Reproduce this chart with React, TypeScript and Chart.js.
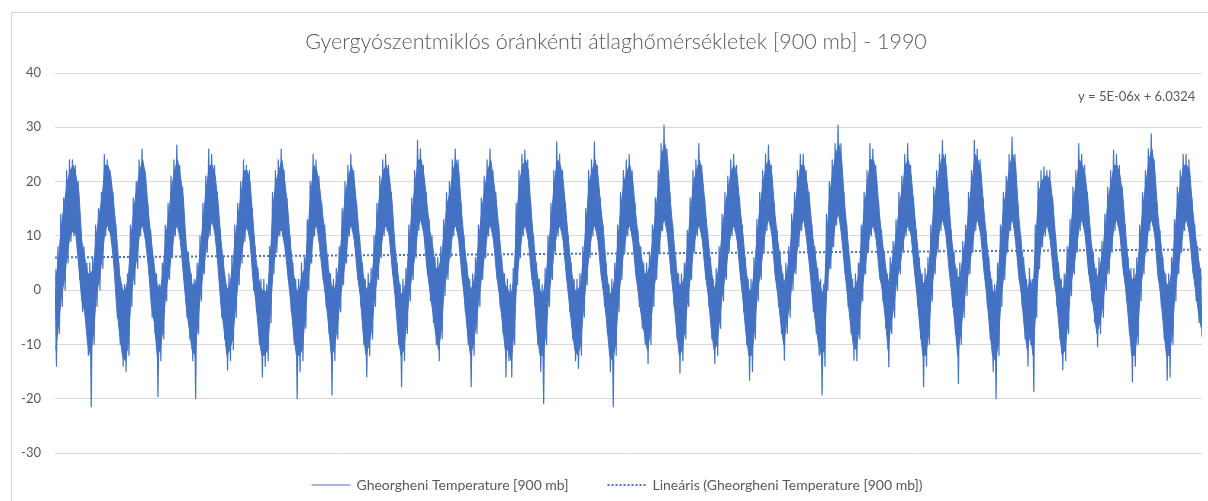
import React, { useEffect, useRef } from "react";
import { Chart, registerables } from "chart.js";

Chart.register(...registerables);

// ---- data; one row per year (1990..2022), Jan..Dec ----
const years = [
  1990, 1991, 1992, 1993, 1994, 1995, 1996, 1997, 1998, 1999, 2000,
  2001, 2002, 2003, 2004, 2005, 2006, 2007, 2008, 2009, 2010, 2011,
  2012, 2013, 2014, 2015, 2016, 2017, 2018, 2019, 2020, 2021, 2022,
];

// monthly extreme maximum of the hourly temperatures (°C) - the spike tips
const monthlyMax: number[][] = [
  [4, 8, 14, 17, 22, 24, 24, 23, 20, 10, 8, 5],
  [5, 6, 12, 15, 18, 25, 24, 22, 18, 12, 5, 1],
  [1, 3, 12, 17, 20, 24, 26, 22, 16, 11, 6, 3],
  [1, 5, 12, 16, 21, 24, 26.7, 23, 19, 10, 7, 3],
  [2, 5, 10, 16, 21, 26, 25, 23, 18, 11, 6, 1],
  [3, 6, 12, 16, 20, 24, 23, 22, 15, 8, 4, 2],
  [2, 1, 8, 18, 22, 24, 26, 22, 17, 10, 5, 2],
  [2, 5, 6, 13, 20, 25, 24, 21, 16, 12, 6, 3],
  [2, 4, 8, 15, 20, 23, 25, 22, 16, 10, 5, 2],
  [3, 4, 10, 16, 21, 24, 25, 23, 18, 10, 5, 1],
  [2, 4, 12, 17, 22, 27.6, 26, 23, 18, 13, 10, 6],
  [6, 8, 13, 18, 20, 24, 26, 24, 16, 10, 5, 2],
  [3, 6, 12, 17, 21, 24, 26, 22, 18, 12, 6, 3],
  [2, 1, 4, 16, 22, 25, 25.8, 24, 16, 10, 5, 2],
  [1, 4, 10, 16, 22, 27.3, 25, 22, 16, 10, 5, 2],
  [2, 3, 8, 15, 22, 24, 27.3, 23, 17, 12, 5, 1],
  [2, 5, 12, 18, 22, 24, 25, 22, 16, 11, 8, 5],
  [5, 7, 12, 17, 22, 27, 30.4, 26, 18, 12, 6, 3],
  [3, 5, 11, 17, 22, 24, 27, 23, 17, 11, 6, 2],
  [4, 8, 14, 18, 21, 24, 25, 23, 17, 12, 6, 2],
  [2, 6, 13, 18, 22, 25, 26.7, 23, 16, 11, 7, 3],
  [5, 8, 14, 18, 22, 25, 25, 22, 18, 12, 8, 4],
  [2, 1, 14, 20, 24, 27, 30.4, 27, 18, 12, 6, 2],
  [3, 5, 12, 18, 22, 27, 26, 23, 16, 11, 7, 3],
  [6, 9, 13, 18, 21, 25, 27, 23, 17, 11, 6, 3],
  [4, 6, 12, 19, 22, 25, 27.6, 25, 18, 11, 7, 4],
  [5, 9, 12, 18, 22, 27.6, 26, 24, 17, 11, 6, 2],
  [1, 5, 12, 18, 21, 25, 28.2, 25, 16, 10, 6, 2],
  [4, 2, 12, 20, 22, 22.7, 22, 22, 17, 10, 5, 2],
  [3, 8, 13, 19, 22, 27, 25, 23, 18, 11, 7, 4],
  [6, 9, 14, 19, 22, 25.8, 25, 23, 19, 12, 6, 4],
  [4, 6, 12, 18, 22, 26, 28.8, 24, 16, 11, 6, 3],
  [3, 6, 13, 19, 22, 25, 25, 24, 17, 12, 8, 4],
];

// monthly extreme minimum of the hourly temperatures (°C) - the spike tips
const monthlyMin: number[][] = [
  [-14, -8, -3, 0, 5, 9, 10, 9, 2, -4, -5, -12],
  [-21.5, -10, -3, 0, 4, 10, 11, 9, 4, -5, -10, -14],
  [-15, -12, -3, 1, 4, 10, 11, 8, 3, -5, -8, -19.6],
  [-13, -9, -2, 2, 6, 10, 11, 8, 2, -5, -9, -13],
  [-20, -8, -2, 3, 7, 10, 12, 9, 3, -5, -9, -14.7],
  [-13, -11, -5, 1, 5, 9, 11, 8, 0, -4, -10, -16],
  [-14, -13, -6, 3, 7, 10, 10, 7, 2, -4, -10, -20],
  [-15, -13, -7, 0, 5, 10, 11, 7, 2, -3, -8, -19.3],
  [-13, -9, -4, 1, 5, 10, 11, 8, 2, -3, -10, -16],
  [-12, -9, -3, 2, 6, 10, 11, 9, 3, -3, -10, -17.8],
  [-13, -8, -2, 2, 6, 11, 12, 9, 3, -2, -6, -10],
  [-13, -9, -1, 2, 6, 10, 11, 8, 2, -4, -10, -17.8],
  [-12, -8, -3, 2, 6, 10, 11, 8, 2, -3, -8, -16],
  [-13, -16, -10, 1, 6, 10, 11, 8, 2, -3, -10, -15],
  [-20.9, -10, -3, 2, 7, 10, 11, 8, 2, -4, -9, -13],
  [-14.4, -12, -5, 1, 6, 10, 11, 8, 2, -3, -8, -15],
  [-21.5, -12, -4, 2, 7, 10, 11, 8, 2, -3, -7, -10],
  [-13.5, -10, -3, 2, 7, 11, 12, 9, 3, -3, -9, -15.3],
  [-13, -9, -3, 2, 7, 10, 11, 8, 2, -3, -9, -13.5],
  [-12, -7, -2, 2, 7, 10, 11, 8, 2, -4, -10, -16.6],
  [-15, -9, -2, 2, 7, 11, 12, 9, 2, -3, -8, -12.9],
  [-8, -5, 0, 3, 8, 11, 12, 8, 3, -4, -8, -12],
  [-19.3, -14, 0, 4, 8, 12, 13, 9, 3, -3, -8, -12.9],
  [-13, -9, -2, 3, 7, 10, 11, 8, 2, -2, -7, -14.1],
  [-8, -5, 0, 3, 7, 10, 11, 9, 3, -3, -9, -17.8],
  [-14, -10, -2, 3, 7, 11, 12, 9, 3, -3, -8, -17.2],
  [-10, -5, -1, 3, 7, 11, 12, 9, 3, -3, -9, -15],
  [-20, -12, -3, 2, 7, 11, 12, 8, 2, -3, -9, -14],
  [-10, -18.7, -5, 4, 8, 10, 11, 8, 2, -3, -9, -14.7],
  [-13, -8, -1, 3, 7, 11, 12, 9, 3, -2, -6, -10.4],
  [-8, -5, 0, 3, 7, 11, 12, 9, 3, -2, -8, -16.9],
  [-14, -10, -2, 3, 7, 11, 12, 9, 2, -3, -9, -16.6],
  [-16, -10, -2, 3, 7, 11, 12, 9, 3, -2, -6, -8.6],
];

// upper edge of the dense (solid) part of the band, per month (°C)
const coreHigh: number[][] = [
  [2, 6, 12, 16, 20, 22, 23, 21, 18, 9, 6, 3],
  [3, 4, 10, 14, 17, 23, 23, 21, 16, 10, 3, 0],
  [0, 2, 10, 15, 19, 22, 24, 21, 14, 9, 4, 1],
  [0, 3, 10, 14, 19, 22, 24, 21, 17, 8, 5, 1],
  [1, 3, 8, 14, 19, 23, 23, 21, 16, 9, 4, 0],
  [1, 4, 10, 14, 18, 22, 22, 20, 13, 6, 2, 0],
  [0, -1, 6, 16, 20, 22, 24, 20, 15, 8, 3, 0],
  [0, 3, 4, 11, 18, 23, 22, 19, 14, 10, 4, 1],
  [0, 2, 6, 13, 18, 21, 23, 20, 14, 8, 3, 0],
  [1, 2, 8, 14, 19, 22, 23, 21, 16, 8, 3, -1],
  [0, 2, 10, 15, 20, 24, 24, 21, 16, 11, 8, 4],
  [4, 6, 11, 16, 18, 22, 24, 22, 14, 8, 3, 0],
  [1, 4, 10, 15, 19, 22, 24, 20, 16, 10, 4, 1],
  [0, -1, 2, 14, 20, 23, 24, 22, 14, 8, 3, 0],
  [-1, 2, 8, 14, 20, 24, 23, 20, 14, 8, 3, 0],
  [0, 1, 6, 13, 20, 22, 24, 21, 15, 10, 3, -1],
  [0, 3, 10, 16, 20, 22, 23, 20, 14, 9, 6, 3],
  [3, 5, 10, 15, 20, 25, 27, 24, 16, 10, 4, 1],
  [1, 3, 9, 15, 20, 22, 24, 21, 15, 9, 4, 0],
  [2, 6, 12, 16, 19, 22, 23, 21, 15, 10, 4, 0],
  [0, 4, 11, 16, 20, 23, 24, 21, 14, 9, 5, 1],
  [3, 6, 12, 16, 20, 23, 23, 20, 16, 10, 6, 2],
  [0, -1, 11, 18, 22, 25, 27, 24, 16, 10, 4, 0],
  [1, 3, 10, 16, 20, 24, 24, 21, 14, 9, 5, 1],
  [4, 7, 11, 16, 19, 23, 24, 21, 15, 9, 4, 1],
  [2, 4, 10, 17, 20, 23, 25, 23, 16, 9, 5, 2],
  [3, 7, 10, 16, 20, 25, 24, 22, 15, 9, 4, 0],
  [-1, 3, 10, 16, 19, 23, 25, 23, 14, 8, 4, 0],
  [2, 0, 10, 18, 20, 21, 21, 20, 15, 8, 3, 0],
  [1, 6, 11, 17, 20, 24, 23, 21, 16, 9, 5, 2],
  [4, 7, 12, 17, 20, 23, 23, 21, 17, 10, 4, 2],
  [2, 4, 10, 16, 20, 24, 26, 22, 14, 9, 4, 1],
  [1, 4, 11, 17, 20, 23, 23, 22, 15, 10, 6, 2],
];

// lower edge of the dense (solid) part of the band, per month (°C)
const coreLow: number[][] = [
  [-11, -6, -1, 2, 7, 10, 11, 10, 4, -2, -4, -10],
  [-12, -8, -1, 2, 6, 11, 12, 10, 5, -3, -8, -12],
  [-13, -10, -1, 3, 6, 11, 12, 9, 4, -3, -6, -12],
  [-11, -7, 0, 3, 7, 11, 12, 9, 3, -3, -7, -11],
  [-12, -6, 0, 4, 8, 11, 13, 10, 4, -3, -7, -12],
  [-11, -9, -3, 2, 6, 10, 12, 9, 2, -2, -8, -12],
  [-12, -11, -4, 4, 8, 11, 11, 8, 3, -2, -8, -12],
  [-12, -11, -5, 2, 6, 11, 12, 8, 3, -1, -6, -12],
  [-11, -7, -2, 2, 6, 11, 12, 9, 3, -1, -8, -12],
  [-10, -7, -1, 3, 7, 11, 12, 10, 4, -1, -8, -12],
  [-11, -6, 0, 3, 7, 12, 13, 10, 4, 0, -4, -8],
  [-11, -7, 1, 3, 7, 11, 12, 9, 3, -2, -8, -12],
  [-10, -6, -1, 3, 7, 11, 12, 9, 3, -1, -6, -11],
  [-11, -13, -8, 2, 7, 11, 12, 9, 3, -1, -8, -12],
  [-12, -8, -1, 3, 8, 11, 12, 9, 3, -2, -7, -11],
  [-12, -10, -3, 2, 7, 11, 12, 9, 3, -1, -6, -12],
  [-13, -10, -2, 3, 8, 11, 12, 9, 3, -1, -5, -8],
  [-11, -8, -1, 3, 8, 12, 13, 10, 4, -1, -7, -12],
  [-11, -7, -1, 3, 8, 11, 12, 9, 3, -1, -7, -11],
  [-10, -5, 0, 3, 8, 11, 12, 9, 3, -2, -8, -12],
  [-12, -7, 0, 3, 8, 12, 13, 10, 3, -1, -6, -10],
  [-6, -3, 2, 4, 9, 12, 13, 9, 4, -2, -6, -10],
  [-12, -11, 2, 5, 9, 13, 14, 10, 4, -1, -6, -10],
  [-11, -7, 0, 4, 8, 11, 12, 9, 3, 0, -5, -11],
  [-6, -3, 2, 4, 8, 11, 12, 10, 4, -1, -7, -12],
  [-12, -8, 0, 4, 8, 12, 13, 10, 4, -1, -6, -12],
  [-8, -3, 1, 4, 8, 12, 13, 10, 4, -1, -7, -12],
  [-13, -10, -1, 3, 8, 12, 13, 9, 3, -1, -7, -11],
  [-8, -12, -3, 5, 9, 11, 12, 9, 3, -1, -7, -12],
  [-11, -6, 1, 4, 8, 12, 13, 10, 4, 0, -4, -8],
  [-6, -3, 2, 4, 8, 12, 13, 10, 4, 0, -6, -12],
  [-12, -8, 0, 4, 8, 12, 13, 10, 3, -1, -7, -12],
  [-12, -8, 0, 4, 8, 12, 13, 10, 4, 0, -4, -7],
];

// linear trend line end values
const trendStart = 6.03;
const trendEnd = 7.48;

const yMin = -30;
const yMax = 40;
const yStep = 10;

const titleText = "Gyergyószentmiklós óránkénti átlaghőmérsékletek [900 mb] - 1990";
const seriesLabel = "Gheorgheni Temperature [900 mb]";
const trendLabel = "Lineáris (Gheorgheni Temperature [900 mb])";
const equationText = "y = 5E-06x + 6.0324";

const BLUE = "#4472C4";
const TEXT = "#595959";
const GRID = "#D9D9D9";
const FONT = "Lato, 'Open Sans', 'Liberation Sans', sans-serif";

const CANVAS_W = 1232;
const CANVAS_H = 501;

export default function App() {
  const ref = useRef<HTMLCanvasElement>(null);

  useEffect(() => {
    if (!ref.current) return;
    const points: { x: number; y: number }[] = [];
    const upper: { x: number; y: number }[] = [];
    const lower: { x: number; y: number }[] = [];
    years.forEach((_, yi) => {
      for (let m = 0; m < 12; m++) {
        const i = points.length;
        points.push({ x: i, y: monthlyMax[yi][m] });
        points.push({ x: i + 1, y: monthlyMin[yi][m] });
        upper.push({ x: i + 0.5, y: coreHigh[yi][m] });
        lower.push({ x: i + 0.5, y: coreLow[yi][m] });
      }
    });
    const last = points.length - 1;

    const overlay = {
      id: "overlay",
      afterDraw(chart: any) {
        const ctx = chart.ctx as CanvasRenderingContext2D;
        ctx.save();
        ctx.fillStyle = TEXT;
        ctx.textBaseline = "middle";
        ctx.font = `300 21.5px ${FONT}`;
        ctx.textAlign = "center";
        ctx.fillText(titleText, 616, 42);

        ctx.font = `13px ${FONT}`;
        ctx.textAlign = "left";
        ctx.fillText(equationText, 1078, 97);

        ctx.font = `14px ${FONT}`;
        ctx.textAlign = "left";
        const w1 = ctx.measureText(seriesLabel).width;
        const w2 = ctx.measureText(trendLabel).width;
        const sample = 39;
        const gapText = 6;
        const gapItem = 39;
        const total = sample + gapText + w1 + gapItem + sample + gapText + w2;
        let x = 617 - total / 2;
        const y = 485;
        ctx.strokeStyle = BLUE;
        ctx.lineWidth = 1;
        ctx.beginPath();
        ctx.moveTo(x, y);
        ctx.lineTo(x + sample, y);
        ctx.stroke();
        x += sample + gapText;
        ctx.fillText(seriesLabel, x, y);
        x += w1 + gapItem;
        ctx.lineWidth = 2;
        ctx.setLineDash([2, 2]);
        ctx.beginPath();
        ctx.moveTo(x, y);
        ctx.lineTo(x + sample, y);
        ctx.stroke();
        ctx.setLineDash([]);
        x += sample + gapText;
        ctx.fillText(trendLabel, x, y);
        ctx.restore();
      },
    };

    const chart = new Chart(ref.current, {
      type: "line",
      data: {
        datasets: [
          {
            label: seriesLabel,
            data: points,
            borderColor: BLUE,
            backgroundColor: BLUE,
            borderWidth: 1.2,
            borderJoinStyle: "round",
            pointRadius: 0,
            tension: 0,
            fill: false,
          },
          {
            label: "core-high",
            data: upper,
            borderColor: BLUE,
            backgroundColor: BLUE,
            borderWidth: 1,
            pointRadius: 0,
            tension: 0,
            fill: "+1",
          },
          {
            label: "core-low",
            data: lower,
            borderColor: BLUE,
            backgroundColor: BLUE,
            borderWidth: 1,
            pointRadius: 0,
            tension: 0,
            fill: false,
          },
          {
            label: trendLabel,
            data: [
              { x: 0, y: trendStart },
              { x: last, y: trendEnd },
            ],
            borderColor: BLUE,
            borderWidth: 2,
            borderDash: [2, 2],
            pointRadius: 0,
            fill: false,
          },
        ],
      },
      options: {
        responsive: false,
        animation: false,
        events: [],
        layout: { padding: { left: 0, right: CANVAS_W - 1202, top: 73, bottom: CANVAS_H - 453 } },
        plugins: {
          legend: { display: false },
          title: { display: false },
          tooltip: { enabled: false },
        },
        scales: {
          x: { type: "linear", display: false, min: 0, max: last },
          y: {
            min: yMin,
            max: yMax,
            ticks: {
              stepSize: yStep,
              color: TEXT,
              font: { family: FONT, size: 13 },
              padding: 14,
            },
            grid: { color: GRID, drawTicks: false, lineWidth: 1 },
            border: { display: false },
            afterFit: (s: any) => {
              s.width = 55;
            },
          },
        },
      },
      plugins: [overlay],
    });
    return () => chart.destroy();
  }, []);

  return (
    <div
      style={{
        position: "fixed",
        left: 0,
        top: 0,
        width: 1208,
        height: 501,
        overflow: "hidden",
        background: "#fff",
      }}
    >
      <div
        style={{
          position: "absolute",
          left: 11,
          top: 12,
          width: 1220,
          height: 520,
          border: "1px solid #D9D9D9",
          boxSizing: "border-box",
        }}
      />
      <canvas
        ref={ref}
        width={CANVAS_W}
        height={CANVAS_H}
        style={{ position: "absolute", left: 0, top: 0, width: CANVAS_W, height: CANVAS_H }}
      />
    </div>
  );
}
